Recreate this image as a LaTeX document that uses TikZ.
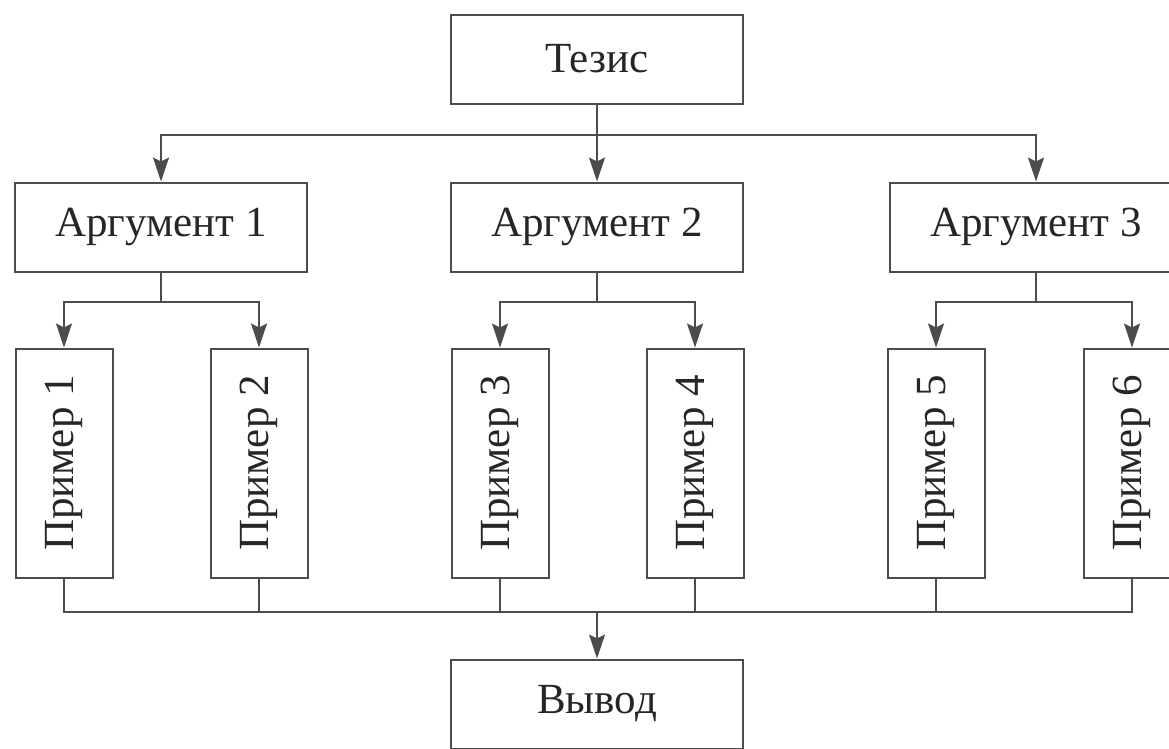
\documentclass[tikz,border=0pt]{standalone}
\usepackage{fontspec}
\setmainfont{Liberation Serif}
\usetikzlibrary{arrows.meta}

\begin{document}
\begin{tikzpicture}[x=1pt, y=-1pt,
    every node/.style={font=\fontsize{43}{50}\selectfont, text=black!85},
    box/.style={draw=black!70, line width=2pt, minimum width=292pt, minimum height=89pt, inner sep=0pt},
    exbox/.style={draw=black!70, line width=2pt, minimum width=97pt, minimum height=229pt, inner sep=0pt},
    link/.style={draw=black!70, line width=2pt},
    arr/.style={link, -{Stealth[length=24pt, width=16pt, inset=4pt]}}]
    \useasboundingbox (0,0) rectangle (1169,748);
    \clip (0,0) rectangle (1169,748);

    % boxes
    \node[box] (thesis) at (597,59) {Тезис};
    \node[box] (arg1) at (161,227) {Аргумент 1};
    \node[box] (arg2) at (597,227) {Аргумент 2};
    \node[box] (arg3) at (1036,227) {Аргумент 3};

    \node[exbox] (ex1) at (64,463) {\rotatebox{90}{Пример 1}};
    \node[exbox] (ex2) at (259,463) {\rotatebox{90}{Пример 2}};
    \node[exbox] (ex3) at (500,463) {\rotatebox{90}{Пример 3}};
    \node[exbox] (ex4) at (695,463) {\rotatebox{90}{Пример 4}};
    \node[exbox] (ex5) at (936,463) {\rotatebox{90}{Пример 5}};
    \node[exbox] (ex6) at (1132,463) {\rotatebox{90}{Пример 6}};

    \node[box] (concl) at (597,704) {Вывод};

    % branch points
    \coordinate (tj) at (597,135);
    \coordinate (m1) at (161,302);
    \coordinate (m2) at (597,302);
    \coordinate (m3) at (1036,302);
    \coordinate (bj) at (597,612);

    % thesis -> arguments
    \draw[link] (thesis) -- (tj);
    \draw[arr] (tj) -| (arg1.north);
    \draw[arr] (tj) -- (arg2.north);
    \draw[arr] (tj) -| (arg3.north);

    % arguments -> examples
    \draw[link] (arg1) -- (m1);
    \draw[arr] (m1) -| (ex1.north);
    \draw[arr] (m1) -| (ex2.north);
    \draw[link] (arg2) -- (m2);
    \draw[arr] (m2) -| (ex3.north);
    \draw[arr] (m2) -| (ex4.north);
    \draw[link] (arg3) -- (m3);
    \draw[arr] (m3) -| (ex5.north);
    \draw[arr] (m3) -| (ex6.north);

    % examples -> conclusion
    \foreach \i in {1,...,6}
        \draw[link] (ex\i.south) |- (bj);
    \draw[arr] (bj) -- (concl.north);
\end{tikzpicture}
\end{document}
